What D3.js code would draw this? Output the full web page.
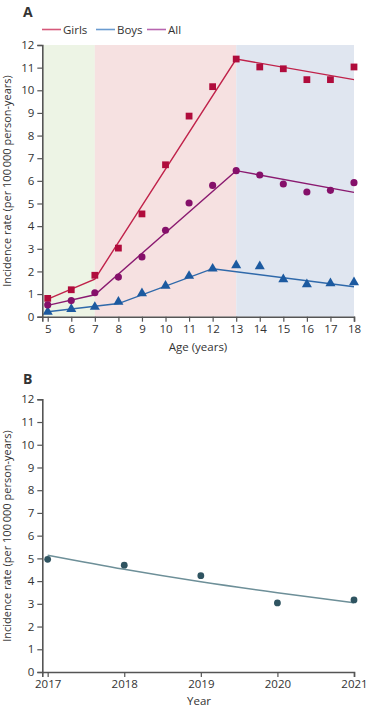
<!DOCTYPE html>
<html>
<head>
<meta charset="utf-8">
<script src="https://cdn.jsdelivr.net/npm/d3@7"></script>
<style>
  body { margin: 0; background: #fff; }
  svg text { font-family: "Liberation Sans Narrow", "Open Sans", sans-serif; fill: #333; }
</style>
</head>
<body>
<svg id="chart" width="370" height="708"></svg>
<script>
// panel A: age-specific incidence
const ages = [5, 6, 7, 8, 9, 10, 11, 12, 13, 14, 15, 16, 17, 18]
const girls = [0.81, 1.19, 1.83, 3.03, 4.54, 6.71, 8.86, 10.16, 11.38, 11.03, 10.95, 10.47, 10.47, 11.03]
const boys = [0.22, 0.34, 0.43, 0.66, 1.03, 1.36, 1.80, 2.12, 2.27, 2.22, 1.65, 1.43, 1.47, 1.52]
const all = [0.52, 0.71, 1.06, 1.75, 2.64, 3.82, 5.02, 5.80, 6.45, 6.26, 5.86, 5.51, 5.58, 5.92]
// joinpoint fits (age, rate)
const girlsFit = [[5, 0.78], [7, 1.66], [13, 11.38], [18, 10.47]]
const boysFit = [[5, 0.22], [8, 0.58], [12, 2.12], [18, 1.32]]
const allFit = [[5, 0.50], [7, 0.97], [13, 6.45], [18, 5.49]]
// age bands
const bands = [[null, 7, "#edf4e5"], [7, 13, "#f6e1e1"], [13, 18, "#e0e6f0"]]

// panel B: yearly incidence
const years = [2017, 2018, 2019, 2020, 2021]
const yearRate = [4.96, 4.70, 4.24, 3.04, 3.17]
const yearFit = [5.14, 4.52, 3.97, 3.49, 3.05]

const yTicks = d3.range(0, 13)
const axisColor = "#555"

const svg = d3.select("#chart")

function yAxis(g, y, x0) {
  g.attr("transform", `translate(${x0},0)`)
    .call(d3.axisLeft(y).tickValues(yTicks).tickSize(5).tickPadding(3))
  g.select(".domain").attr("stroke", axisColor).attr("stroke-width", 1.6)
  g.selectAll(".tick line").attr("stroke", axisColor).attr("stroke-width", 1.2)
  g.selectAll(".tick text").attr("font-size", 11.5).attr("fill", "#333")
    .attr("font-family", '"Liberation Sans Narrow", "Open Sans", sans-serif')
}

function xAxis(g, x, y0, ticks, fmt) {
  g.attr("transform", `translate(0,${y0})`)
    .call(d3.axisBottom(x).tickValues(ticks).tickSize(5).tickPadding(3).tickFormat(fmt))
  g.select(".domain").attr("stroke", axisColor).attr("stroke-width", 1.6)
  g.selectAll(".tick line").attr("stroke", axisColor).attr("stroke-width", 1.2)
  g.selectAll(".tick text").attr("font-size", 11.5).attr("fill", "#333")
    .attr("font-family", '"Liberation Sans Narrow", "Open Sans", sans-serif')
}

// ---------- panel A ----------
const xA = d3.scaleLinear().domain([4.77, 18]).range([42.3, 354])
const yA = d3.scaleLinear().domain([0, 12]).range([316.7, 45])

const gA = svg.append("g")

gA.selectAll("rect.band").data(bands).join("rect")
  .attr("class", "band")
  .attr("x", d => xA(d[0] === null ? xA.domain()[0] : d[0]))
  .attr("width", d => xA(d[1]) - xA(d[0] === null ? xA.domain()[0] : d[0]))
  .attr("y", yA(12))
  .attr("height", yA(0) - yA(12))
  .attr("fill", d => d[2])

const line = d3.line().x(d => xA(d[0])).y(d => yA(d[1]))

const seriesA = [
  { name: "Girls", fit: girlsFit, vals: girls, color: "#c0224a", mark: "#b00c3c", legend: "#d6587a", shape: d3.symbolSquare, size: 46 },
  { name: "Boys", fit: boysFit, vals: boys, color: "#2f69aa", mark: "#1c5aa0", legend: "#6a9bd0", shape: d3.symbolTriangle, size: 44 },
  { name: "All", fit: allFit, vals: all, color: "#8a1a70", mark: "#85106a", legend: "#b766b0", shape: d3.symbolCircle, size: 40 }
]

seriesA.forEach(s => {
  gA.append("path").datum(s.fit)
    .attr("d", line)
    .attr("fill", "none")
    .attr("stroke", s.color)
    .attr("stroke-width", 1.4)
  gA.selectAll(null).data(ages.map((a, i) => [a, s.vals[i]])).join("path")
    .attr("transform", d => `translate(${xA(d[0])},${yA(d[1])})`)
    .attr("d", d3.symbol().type(s.shape).size(s.size))
    .attr("fill", s.mark)
})

gA.append("g").call(yAxis, yA, 42.3)
gA.append("g").call(xAxis, xA, 316.7, ages, d3.format("d"))

gA.append("text").attr("x", 23).attr("y", 17).text("A")
  .attr("font-size", 14).attr("font-weight", "bold").attr("fill", "#222")

gA.append("text")
  .attr("transform", `translate(11,181) rotate(-90)`)
  .attr("text-anchor", "middle").attr("font-size", 11)
  .text("Incidence rate (per 100\u2009000 person-years)")

gA.append("text").attr("x", 198).attr("y", 351)
  .attr("text-anchor", "middle").attr("font-size", 11.5)
  .text("Age (years)")

const legendX = [42, 96, 147]
const leg = gA.selectAll("g.leg").data(seriesA).join("g")
  .attr("class", "leg")
  .attr("transform", (d, i) => `translate(${legendX[i]},29.5)`)
leg.append("line").attr("x1", 0).attr("x2", 19)
  .attr("stroke", d => d.legend).attr("stroke-width", 1.6)
leg.append("text").attr("x", 21).attr("dy", "0.35em")
  .attr("font-size", 11.5).text(d => d.name)

// ---------- panel B ----------
const xB = d3.scaleLinear().domain([2016.93, 2021]).range([42.3, 354])
const yB = d3.scaleLinear().domain([0, 12]).range([672, 399.3])

const gB = svg.append("g")

gB.append("path").datum(years.map((yr, i) => [yr, yearFit[i]]))
  .attr("d", d3.line().x(d => xB(d[0])).y(d => yB(d[1])).curve(d3.curveMonotoneX))
  .attr("fill", "none").attr("stroke", "#6d8f98").attr("stroke-width", 1.4)

gB.selectAll("circle.pt").data(years.map((yr, i) => [yr, yearRate[i]])).join("circle")
  .attr("class", "pt")
  .attr("cx", d => xB(d[0])).attr("cy", d => yB(d[1]))
  .attr("r", 3.4).attr("fill", "#2f5461")

gB.append("g").call(yAxis, yB, 42.3)
gB.append("g").call(xAxis, xB, 672, years, d3.format("d"))

gB.append("text").attr("x", 23).attr("y", 384).text("B")
  .attr("font-size", 14).attr("font-weight", "bold").attr("fill", "#222")

gB.append("text")
  .attr("transform", `translate(11,536) rotate(-90)`)
  .attr("text-anchor", "middle").attr("font-size", 11)
  .text("Incidence rate (per 100\u2009000 person-years)")

gB.append("text").attr("x", 199).attr("y", 705)
  .attr("text-anchor", "middle").attr("font-size", 11.5)
  .text("Year")
</script>
</body>
</html>
